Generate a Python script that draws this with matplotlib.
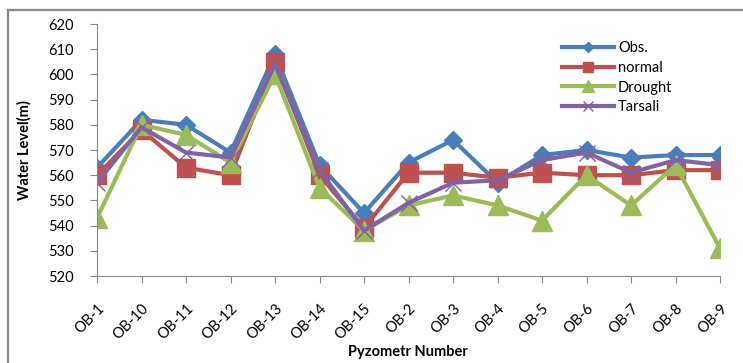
import matplotlib.pyplot as plt
from matplotlib.lines import Line2D

plt.rcParams['font.family'] = ['Lato', 'DejaVu Sans']

wells = ["OB-1", "OB-10", "OB-11", "OB-12", "OB-13", "OB-14", "OB-15", "OB-2",
         "OB-3", "OB-4", "OB-5", "OB-6", "OB-7", "OB-8", "OB-9"]
obs = [563, 582, 580, 569, 608, 564, 545, 565, 574, 557, 568, 570, 567, 568, 568]
normal = [560, 578, 563, 560, 605, 560, 539, 561, 561, 559, 561, 560, 560, 562, 562]
drought = [543, 580, 576, 565, 600, 555, 538, 548, 552, 548, 542, 560, 548, 564, 531]
tarsali = [557, 579, 569, 567, 604, 562, 538, 549, 557, 558, 566, 569, 561, 566, 564]

W, H = 743, 363
fig = plt.figure(figsize=(W / 100, H / 100), dpi=100)
ax = fig.add_axes([97 / W, 1 - 276 / H, (720 - 97) / W, (276 - 24) / H])

x = range(len(wells))
ax.plot(x, obs, color="#4A7EBB", lw=3, marker="D", ms=9, label="Obs.")
ax.plot(x, normal, color="#C0504D", lw=3, marker="s", ms=13, label="normal")
ax.plot(x, drought, color="#9BBB59", lw=3, marker="^", ms=14, label="Drought")
ax.plot(x, tarsali, color="#8064A2", lw=3, marker="x", ms=12, mew=1,
        label="Tarsali")

ax.set_xlim(0, len(wells) - 1)
ax.set_ylim(520, 620)
ax.set_yticks(range(520, 621, 10))
ax.set_xticks(list(x))
ax.set_xticklabels(wells, rotation=45, ha="right", rotation_mode="anchor")
ax.tick_params(axis="both", colors="#888888", labelcolor="black",
               labelsize=10.5, length=5)
ax.tick_params(axis="x", pad=13)
ax.tick_params(axis="y", pad=12)
for s in ["top", "right"]:
    ax.spines[s].set_visible(False)
for s in ["left", "bottom"]:
    ax.spines[s].set_color("#888888")

fig.text(24 / W, 1 - 150 / H, "Water Level(m)", fontsize=10.5,
         fontweight="bold", rotation=90, ha="center", va="center")
fig.text(408 / W, 1 - 352 / H, "Pyzometr Number", fontsize=10.5,
         fontweight="bold", ha="center", va="center")

leg = ax.legend(loc="upper left", bbox_to_anchor=(0.725, 0.985), frameon=False,
                fontsize=10.5, handlelength=3.6, markerscale=0.6,
                labelspacing=0.4, handletextpad=0.25)

# outer chart border
fig.add_artist(Line2D([8 / W, 1], [1 - 10 / H, 1 - 10 / H], color="#888888",
                      lw=1.6, transform=fig.transFigure))
fig.add_artist(Line2D([8 / W, 8 / W], [0, 1 - 10 / H], color="#888888",
                      lw=1.6, transform=fig.transFigure))

fig.savefig("out.png", dpi=100)
